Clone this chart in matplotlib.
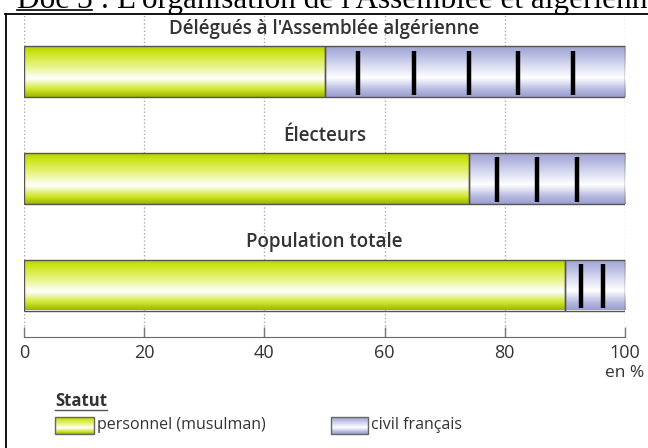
import numpy as np
import matplotlib
matplotlib.use("Agg")
import matplotlib.pyplot as plt
from matplotlib.colors import LinearSegmentedColormap
from matplotlib.patches import Rectangle
from matplotlib.lines import Line2D

TITLE = "Doc 3 : L'organisation de l'Assemblée et algérienne"
CATEGORIES = ["Délégués à l'Assemblée algérienne", "Électeurs", "Population totale"]
MUSULMAN = [50, 74, 90]  # statut personnel (musulman) [%]
FRANCAIS = [50, 26, 10]  # statut civil français [%]
MARKS = [[55.6, 64.9, 74, 82.2, 91.3], [78.7, 85.4, 92], [92.7, 96.3]]  # black strokes of the pattern
TICKS = [0, 20, 40, 60, 80, 100]
LEGEND = ["personnel (musulman)", "civil français"]

FONT = "Open Sans"
TXT = "#333333"

green = LinearSegmentedColormap.from_list(
    "g", [(0, "#b4d000"), (0.12, "#cce418"), (0.4, "#e8f488"), (0.64, "#ffffff"),
          (0.86, "#cfe628"), (1, "#9cb800")])
blue = LinearSegmentedColormap.from_list(
    "b", [(0, "#9fa3cf"), (0.15, "#b4b8e0"), (0.45, "#e4e6f6"), (0.62, "#ffffff"),
          (0.85, "#b8bce2"), (1, "#9a9ecb")])
grad = np.linspace(0, 1, 64).reshape(-1, 1)


def grad_rect(ax, x0, x1, y0, y1, cmap, ec="#555555"):
    # y0 = top, y1 = bottom (inverted axis)
    rect = Rectangle((x0, y0), x1 - x0, y1 - y0, fc="none", ec=ec, lw=1.0, zorder=4)
    ax.add_patch(rect)
    im = ax.imshow(grad, cmap=cmap, extent=(x0, x1, y1, y0), aspect="auto",
                   origin="upper", zorder=3, interpolation="bilinear")
    im.set_clip_path(rect)
    return rect


fig = plt.figure(figsize=(6.48, 4.48), dpi=100)
W, H = 648, 448

# main chart axes: x=0 at px 24, x=100 at px 625, top px 14, bottom axis px 337
ax = fig.add_axes([24 / W, 1 - 337 / H, 601 / W, (337 - 14) / H])
step = 106.5
h = 51 / step

for i, cat in enumerate(CATEGORIES):
    m = MUSULMAN[i]
    f = FRANCAIS[i]
    grad_rect(ax, 0, m, i - h / 2, i + h / 2, green)
    grad_rect(ax, m, m + f, i - h / 2, i + h / 2, blue)
    ax.vlines(MARKS[i], i - h / 2 + 0.04, i + h / 2 - 0.02, color="black", lw=3.2, zorder=5)
    ax.text(50, i - h / 2 - 0.07, cat, ha="center", va="bottom", fontsize=13.5,
            family=FONT, weight="semibold", color=TXT, zorder=6)

ax.set_xlim(0, 100)
ax.set_ylim((337 - 72) / step, -(72 - 14) / step)
ax.set_xticks(TICKS)
ax.set_xticklabels([str(t) for t in TICKS], family=FONT, fontsize=13, color=TXT)
ax.set_yticks([])
ax.tick_params(axis="x", direction="in", length=7, width=1, color="#777777", pad=5)
for s in ["top", "left", "right"]:
    ax.spines[s].set_visible(False)
ax.spines["bottom"].set_color("#666666")
ax.grid(axis="x", linestyle=":", color="#aaaaaa", lw=1, zorder=1)
ax.set_axisbelow(True)

# overlay in pixel units for title, frame and legend
ov = fig.add_axes([0, 0, 1, 1], zorder=10)
ov.axis("off")
ov.patch.set_alpha(0)

ov.text(17, 8, TITLE, ha="left", va="baseline", fontsize=22.5, family="Liberation Serif", color="black")
ov.add_line(Line2D([17, 92], [10, 10], color="black", lw=1.2))
ov.add_line(Line2D([5, W], [14.5, 14.5], color="black", lw=1.3))
ov.add_line(Line2D([5.5, 5.5], [14, H], color="black", lw=1.3))

ov.text(625, 373, "en %", ha="center", va="center", fontsize=12.5, family=FONT, color=TXT)

ov.text(55, 401, "Statut", ha="left", va="center", fontsize=12, family=FONT,
        weight="bold", color=TXT)
ov.add_line(Line2D([55, 107], [410, 410], color="#555555", lw=1))

grad_rect(ov, 55, 94, 417, 434, green, ec="#666666")
ov.text(97, 425, LEGEND[0], ha="left", va="center", fontsize=11.5, family=FONT, color=TXT)
grad_rect(ov, 331, 368, 417, 434, blue, ec="#666666")
ov.vlines([340, 356], 418, 434, color="black", lw=3)
ov.text(371, 425, LEGEND[1], ha="left", va="center", fontsize=11.5, family=FONT, color=TXT)
ov.set_xlim(0, W)
ov.set_ylim(H, 0)

fig.savefig("out.png", dpi=100)
